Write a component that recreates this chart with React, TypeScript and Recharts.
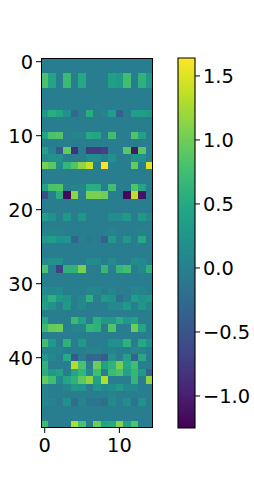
import React from "react";
import { Bar, BarChart, Scatter, ScatterChart, XAxis, YAxis } from "recharts";

const B = -0.03;

// one list per image row
const rows: number[][] = [
  [B, B, B, B, B, B, B, B, B, B, B, B, B, B, B],
  [B, B, B, B, B, B, B, B, B, B, B, B, B, B, B],
  [0.8, 0.45, B, 0.7, B, 0.5, B, B, B, 0.35, 0.3, 0.75, B, 0.6, 0.3],
  [0.8, 0.45, B, 0.7, B, 0.5, B, B, B, 0.35, 0.3, 0.75, B, 0.6, 0.3],
  [B, B, B, B, B, B, B, B, B, B, B, B, B, B, B],
  [B, B, B, B, B, B, B, B, B, B, B, B, B, B, B],
  [B, B, B, B, B, B, B, B, B, B, B, B, B, B, B],
  [0.3, 0.55, 0.45, 0.2, -0.25, B, 0.55, B, 0.05, 0.35, -0.35, B, 0.35, 0.35, 0.3],
  [B, B, B, B, B, B, B, B, B, B, B, B, B, B, B],
  [B, B, B, B, B, B, B, B, B, B, B, B, B, B, B],
  [0.45, 0.8, 0.85, B, 0.05, 0.05, 0.5, 0.45, B, 0.75, B, B, 0.85, 0.4, B],
  [B, B, B, B, B, B, B, B, B, B, B, B, B, B, B],
  [0.4, 0.05, -0.45, 0.95, -0.85, B, -0.75, -0.75, -0.7, B, B, 0.9, -1.05, 0.9, B],
  [0.1, 0.2, 0.2, B, B, B, 0.15, 0.15, B, 0.2, B, B, 0.2, 0.2, B],
  [1.05, 0.9, 0.15, 0.65, 0.85, 1.15, 1.4, B, 1.6, B, B, B, 0.95, B, 1.5],
  [B, B, B, B, B, B, B, B, B, B, B, B, B, B, B],
  [B, B, B, B, B, B, B, B, B, B, B, B, B, B, B],
  [0.4, 0.8, 0.85, B, 0.05, 0.05, 0.55, 0.55, B, 0.75, B, B, 0.85, 0.45, B],
  [-0.55, B, 0.55, -1.2, 1.15, B, 1.05, 1.05, 1.0, B, B, -1.2, 1.35, -1.1, B],
  [B, B, B, B, B, B, B, B, B, B, B, B, B, B, B],
  [B, B, B, B, B, B, B, B, B, B, B, B, B, B, B],
  [0.35, 0.2, B, 0.3, B, 0.25, B, B, B, 0.15, 0.15, 0.3, B, 0.3, 0.1],
  [B, B, B, B, B, B, B, B, B, B, B, B, B, B, B],
  [0.02, 0.02, 0.02, B, B, B, B, B, B, 0.02, B, B, B, 0.02, B],
  [0.3, 0.35, 0.2, 0.25, -0.3, B, -0.1, B, -0.35, 0.3, B, 0.3, B, 0.5, B],
  [B, B, B, B, B, B, B, B, B, B, B, B, B, B, B],
  [B, B, B, B, B, B, B, B, B, B, B, B, B, B, B],
  [0.12, 0.2, 0.2, B, B, B, 0.12, 0.12, B, 0.15, B, B, 0.15, 0.1, B],
  [0.8, B, -0.7, 0.6, 0.6, 1.05, B, B, 0.65, B, 0.65, 0.75, B, 0.1, 0.6],
  [B, B, B, B, B, B, B, B, B, B, B, B, B, B, B],
  [B, B, B, B, B, B, B, B, B, B, B, B, B, B, B],
  [0.1, 0.1, 0.12, B, B, B, 0.08, 0.08, B, 0.08, B, B, 0.08, 0.05, B],
  [0.3, 0.6, 0.3, 0.25, B, 0.1, 0.6, B, 0.3, 0.2, -0.2, B, 0.35, 0.2, 0.3],
  [0.35, 0.2, B, 0.3, B, 0.1, B, B, B, 0.1, 0.1, 0.3, B, 0.25, 0.05],
  [B, B, B, B, B, B, B, B, B, B, B, B, B, B, B],
  [0.5, B, B, B, 0.7, 0.4, B, 0.55, 0.3, 0.3, 0.55, 0.3, 0.4, B, B],
  [0.7, 0.95, 1.0, B, 0.05, 0.05, 0.65, 0.6, B, 0.85, B, B, 1.0, 0.45, B],
  [B, B, B, B, B, B, B, B, B, B, B, B, B, B, B],
  [0.75, 0.3, B, 0.6, B, 0.3, B, B, B, 0.2, 0.2, 0.6, B, 0.5, 0.2],
  [0.05, 0.05, 0.05, B, B, B, 0.05, 0.05, B, 0.05, B, B, 0.05, 0.05, B],
  [0.3, 0.1, B, 0.5, -0.45, B, -0.3, -0.25, -0.4, 0.2, B, 0.4, -0.35, 0.5, B],
  [0.6, B, B, B, 1.3, 0.8, B, 1.0, 0.4, 0.6, 1.05, 0.5, 0.75, B, B],
  [0.55, 0.3, 0.4, B, 0.45, 0.65, 0.1, 0.75, B, 0.7, 0.8, 0.4, 0.65, 0.3, -0.3],
  [0.95, 0.75, 0.1, 0.45, 0.6, 0.9, 1.15, 0.4, 1.3, B, B, B, 0.65, B, 1.15],
  [0.05, B, B, 0.05, 0.3, 0.25, B, 0.25, 0.1, 0.15, 0.3, 0.1, 0.1, B, B],
  [0.05, B, B, B, B, B, B, B, B, 0.02, B, B, B, B, B],
  [0.08, 0.03, -0.08, 0.2, -0.2, 0.02, -0.12, -0.12, -0.2, 0.1, B, 0.15, -0.15, 0.2, B],
  [B, B, B, B, B, B, B, B, B, B, B, B, B, B, B],
  [B, B, B, B, B, B, B, B, B, B, B, B, B, B, B],
  [0.7, B, B, B, 1.3, 0.8, B, 1.0, 0.4, 0.5, 1.1, 0.4, 0.8, B, B],
];

const xTicks = [0, 10];
const yTicks = [0, 10, 20, 30, 40];
const barTicks = [-1, -0.5, 0, 0.5, 1, 1.5];
const vmin = -1.25;
const vmax = 1.64;

const viridis = ["#440154", "#482475", "#414487", "#355f8d", "#2a788e", "#21918c", "#22a884", "#44bf70", "#7ad151", "#bddf26", "#fde725"];

const hexToRgb = (h: string) => [1, 3, 5].map((i) => parseInt(h.slice(i, i + 2), 16));

function colorFor(v: number) {
  const t = Math.min(1, Math.max(0, (v - vmin) / (vmax - vmin))) * (viridis.length - 1);
  const i = Math.min(viridis.length - 2, Math.floor(t));
  const a = hexToRgb(viridis[i]);
  const b = hexToRgb(viridis[i + 1]);
  const c = a.map((x, k) => Math.round(x + (b[k] - x) * (t - i)));
  return `rgb(${c[0]},${c[1]},${c[2]})`;
}

const cells = rows.flatMap((row, y) => row.map((value, x) => ({ x, y, value })));
const barData = [{ name: "c", range: [vmin, vmax] }];

const plotW = 112;
const plotH = 370;
const cellW = plotW / rows[0].length;
const cellH = plotH / rows.length;

const tickStyle = { fontSize: 19.4, fill: "#000", fontFamily: "DejaVu Sans" };
const tickLine = { stroke: "#000", strokeWidth: 1 };

function HeatCell(props: any) {
  const { cx, cy, payload } = props;
  // snap to whole pixels, otherwise seams show between the cells
  const left = Math.round(cx - cellW / 2);
  const top = Math.round(cy - cellH / 2);
  return (
    <rect
      x={left}
      y={top}
      width={Math.round(cx + cellW / 2) - left}
      height={Math.round(cy + cellH / 2) - top}
      shapeRendering="crispEdges"
      fill={colorFor(payload.value)}
    />
  );
}

const fmt = (v: number) => v.toFixed(1).replace("-", "\u2212");

export default function App() {
  return (
    <div style={{ position: "absolute", left: 0, top: 0, width: 254, height: 480, background: "#fff" }}>
      <div style={{ position: "absolute", left: 0, top: 0 }}>
        <ScatterChart width={254} height={480} margin={{ left: 0, top: 58, right: 101, bottom: 0 }}>
          <XAxis
            type="number"
            dataKey="x"
            domain={[-0.5, 14.5]}
            ticks={xTicks}
            height={52}
            tick={tickStyle}
            tickSize={5}
            tickMargin={5}
            tickLine={tickLine}
            axisLine={false}
            allowDataOverflow
          />
          <YAxis
            type="number"
            dataKey="y"
            domain={[-0.5, 49.5]}
            ticks={yTicks}
            reversed
            width={41}
            tick={tickStyle}
            tickSize={5}
            tickMargin={3}
            tickLine={tickLine}
            axisLine={false}
            allowDataOverflow
          />
          <Scatter data={cells} shape={HeatCell} isAnimationActive={false} />
        </ScatterChart>
      </div>
      <div style={{ position: "absolute", left: 41, top: 58, width: 112, height: 370, boxSizing: "border-box", border: "1px solid #000" }} />
      <div style={{ position: "absolute", left: 0, top: 0 }}>
        <BarChart width={254} height={480} data={barData} margin={{ left: 178, top: 58, right: 0, bottom: 52 }} barCategoryGap={0}>
          <defs>
            <linearGradient id="viridisBar" x1="0" y1="1" x2="0" y2="0">
              {viridis.map((c, i) => (
                <stop key={c} offset={`${(i / (viridis.length - 1)) * 100}%`} stopColor={c} />
              ))}
            </linearGradient>
          </defs>
          <XAxis dataKey="name" hide />
          <YAxis
            type="number"
            orientation="right"
            domain={[vmin, vmax]}
            ticks={barTicks}
            width={59}
            tick={tickStyle}
            tickFormatter={fmt}
            tickSize={5}
            tickMargin={3}
            tickLine={tickLine}
            axisLine={false}
            interval={0}
          />
          <Bar dataKey="range" fill="url(#viridisBar)" stroke="#000" strokeWidth={1.1} isAnimationActive={false} />
        </BarChart>
      </div>
    </div>
  );
}
